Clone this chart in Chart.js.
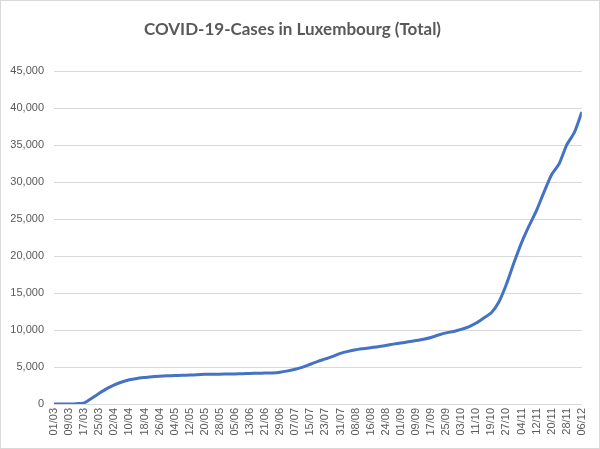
<!DOCTYPE html>
<html>
<head>
<meta charset="utf-8">
<script src="https://cdn.jsdelivr.net/npm/chart.js@4"></script>
<style>
  html, body { margin: 0; padding: 0; background: #fff; }
  #wrap { width: 600px; height: 449px; box-sizing: border-box; border: 1px solid #d9d9d9; }
</style>
</head>
<body>
<div id="wrap"><canvas id="casesChart" width="598" height="447"></canvas></div>
<script>
// x tick labels, one every 8 days starting 01/03
var tickLabels = ["01/03","09/03","17/03","25/03","02/04","10/04","18/04","26/04","04/05","12/05",
  "20/05","28/05","05/06","13/06","21/06","29/06","07/07","15/07","23/07","31/07",
  "08/08","16/08","24/08","01/09","09/09","17/09","25/09","03/10","11/10","19/10",
  "27/10","04/11","12/11","20/11","28/11","06/12"];

var days = [0,4,8,12,16,20,24,28,32,36,40,44,48,52,56,60,64,68,72,76,
  80,84,88,92,96,100,104,108,112,116,120,124,128,132,136,140,144,148,152,156,
  160,164,168,172,176,180,184,188,192,196,200,204,208,212,216,220,224,228,232,236,
  240,244,248,252,256,260,264,268,272,276,280];

// total cases
var totals = [0,0,10,50,140,780,1450,2080,2600,2980,3270,3450,3580,3700,3770,3820,3850,3880,3920,3960,
  4010,4030,4040,4050,4060,4100,4130,4160,4180,4200,4300,4480,4700,4990,5380,5760,6100,6450,6850,7120,
  7330,7480,7620,7750,7920,8100,8250,8420,8580,8760,9000,9330,9620,9820,10100,10450,10950,11650,12350,13800,
  16200,19100,21800,24100,26200,28700,31050,32500,35050,36700,39500];

var points = days.map(function (d, i) { return { x: d, y: totals[i] }; });

var grey = "#595959";
var gridColor = "#d9d9d9";

var chart = new Chart(document.getElementById("casesChart"), {
  type: 'line',
  data: {
    datasets: [{
      label: "Total",
      data: points,
      borderColor: "#4472C4",
      borderWidth: 3,
      pointRadius: 0,
      tension: 0.2,
      fill: false
    }]
  },
  options: {
    responsive: false,
    animation: false,
    layout: { padding: { left: 0, right: 15, top: 0, bottom: 0 } },
    plugins: {
      legend: { display: false },
      tooltip: { enabled: false },
      title: {
        display: true,
        text: 'COVID-19-Cases in Luxembourg (Total)',
        color: grey,
        font: { family: 'Lato', size: 17, weight: 'bold' },
        padding: { top: 18, bottom: 32 }
      }
    },
    scales: {
      x: {
        type: 'linear',
        min: 0,
        max: 280,
        afterBuildTicks: function (scale) {
          scale.ticks = tickLabels.map(function (t, i) { return { value: i * 8 }; });
        },
        ticks: {
          autoSkip: false,
          minRotation: 90,
          maxRotation: 90,
          color: grey,
          padding: 4,
          font: { family: 'Liberation Sans', size: 11 },
          callback: function (v) { return tickLabels[Math.round(v / 8)]; }
        },
        grid: { display: false, drawTicks: false },
        border: { display: true, color: gridColor },
        afterFit: function (scale) { scale.height = 44; }
      },
      y: {
        min: 0,
        max: 45000,
        ticks: {
          stepSize: 5000,
          color: grey,
          padding: 10,
          font: { family: 'Liberation Sans', size: 11 },
          callback: function (v) { return v.toLocaleString('en-US'); }
        },
        grid: { color: gridColor, drawTicks: false },
        border: { display: false },
        afterFit: function (scale) { scale.width = 53; }
      }
    }
  }
});
</script>
</body>
</html>
